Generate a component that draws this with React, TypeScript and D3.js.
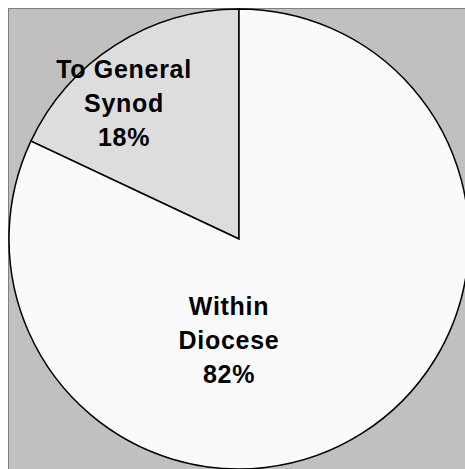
import React from "react";
import * as d3 from "d3";

const categories = ["To General Synod", "Within Diocese"];
const values = [18, 82];
const labelLines = [["To General", "Synod", "18%"], ["Within", "Diocese", "82%"]];
const colors = ["#dddddd", "#fafafa"];

export default function App() {
  const W = 457, H = 461;
  const cx = 231, cy = 231, r = 230;
  const pie = d3.pie<number>().sort(null).startAngle(-2 * Math.PI * values[0] / 100).endAngle(2 * Math.PI - 2 * Math.PI * values[0] / 100);
  const arcs = pie(values);
  const arc = d3.arc<d3.PieArcDatum<number>>().innerRadius(0).outerRadius(r);
  const labelPos: [number, number][] = [[116, 70], [221, 307]];
  return (
    <svg width={W} height={H} style={{ position: "absolute", left: 8, top: 8, display: "block" }}>
      <rect x={0.5} y={0.5} width={W + 10} height={H + 10} fill="#c0c0c0" stroke="#808080" strokeWidth={1} />
      <g transform={`translate(${cx},${cy})`}>
        {arcs.map((a, i) => (
          <path key={categories[i]} d={arc(a) || ""} fill={colors[i]} stroke="#000" strokeWidth={1.5} strokeLinejoin="miter" />
        ))}
      </g>
      {labelLines.map((lines, i) => (
        <text key={i} fontFamily="'Liberation Sans', Arial, sans-serif" fontWeight="bold" fontSize={25} letterSpacing={0.7} textAnchor="middle" fill="#000">
          {lines.map((l, j) => (
            <tspan key={j} x={labelPos[i][0]} y={labelPos[i][1] + j * 34}>{l}</tspan>
          ))}
        </text>
      ))}
    </svg>
  );
}
